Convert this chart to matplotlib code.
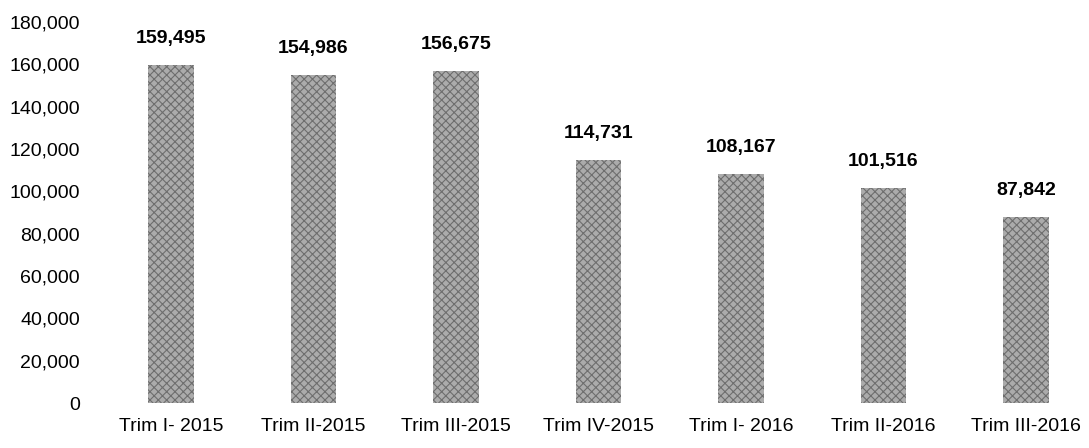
import matplotlib
matplotlib.use("Agg")
import matplotlib.pyplot as plt
import numpy as np

# Dati del grafico.
categorie = ["Trim I- 2015", "Trim II-2015", "Trim III-2015", "Trim IV-2015",
             "Trim I- 2016", "Trim II-2016", "Trim III-2016"]
valori = [159495, 154986, 156675, 114731, 108167, 101516, 87842]
etichette = ["159,495", "154,986", "156,675", "114,731", "108,167", "101,516", "87,842"]

plt.rcParams['font.family'] = ['Liberation Sans Narrow', 'Liberation Sans', 'DejaVu Sans']
plt.rcParams['hatch.linewidth'] = 0.8

fig = plt.figure(figsize=(10.89, 4.48), dpi=100)
ax = fig.add_axes([0.09, 0.1004, 0.91, 0.8504])

x = np.arange(len(categorie))
barre = ax.bar(x, valori, width=0.32, color='#ababab', edgecolor='#6e6e6e',
               hatch='xxxx', linewidth=0)

for xi, v, t in zip(x, valori, etichette):
    ax.annotate(t, (xi, v), xytext=(0, 13), textcoords='offset points',
                ha='center', va='bottom', fontsize=14, fontweight='bold')

ax.set_xlim(-0.512, 6.442)
ax.set_ylim(0, 180000)
ax.set_yticks(np.arange(0, 180001, 20000))
ax.set_yticklabels(["{:,}".format(v) for v in range(0, 180001, 20000)])
ax.set_xticks(x)
ax.set_xticklabels(categorie)
ax.tick_params(axis='y', length=0, pad=13, labelsize=14)
ax.tick_params(axis='x', length=0, pad=11, labelsize=14)
for s in ax.spines.values():
    s.set_visible(False)

fig.savefig("out.png", dpi=100)
